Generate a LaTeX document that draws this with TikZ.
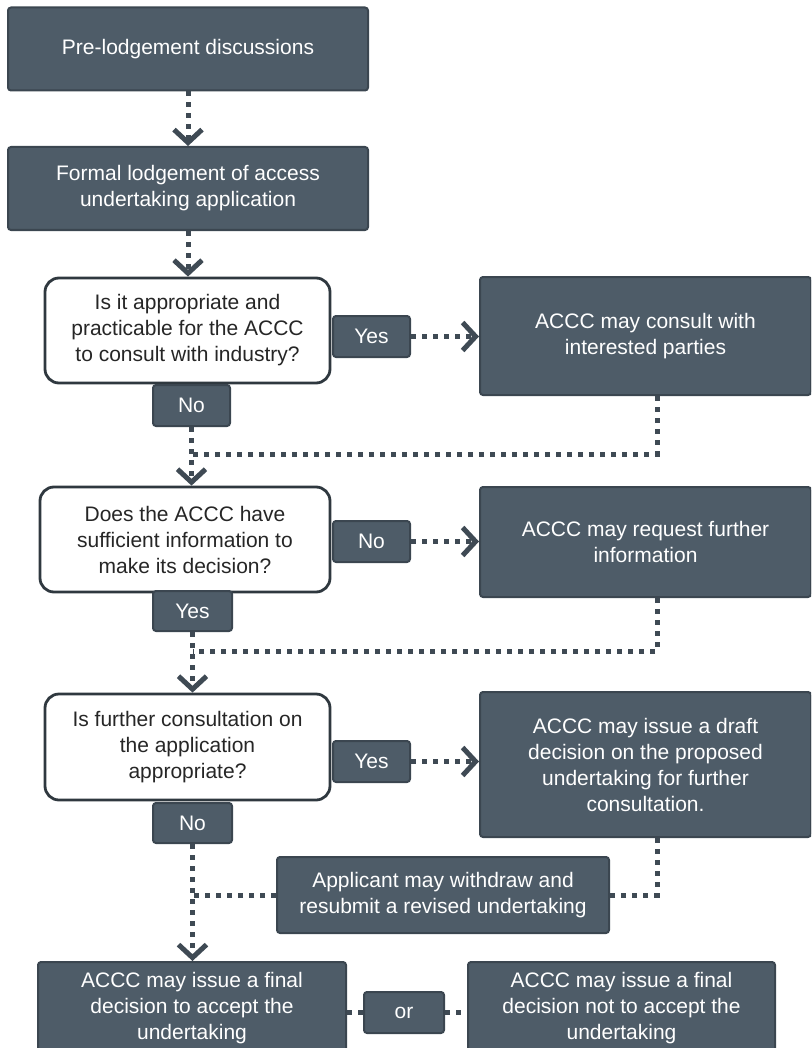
\documentclass[tikz,border=0pt]{standalone}
\usepackage{fontspec}
\setmainfont{Liberation Sans}
\usetikzlibrary{arrows.meta, positioning}
\definecolor{slate}{HTML}{4E5C68}
\definecolor{slateline}{HTML}{3B4650}
\definecolor{flowline}{HTML}{3F4A54}
\definecolor{qline}{HTML}{2F383F}

\begin{document}
\begin{tikzpicture}[
    x=0.5pt, y=-0.5pt,
    every node/.style={font=\fontsize{10.5}{13}\selectfont, align=center, inner sep=0pt},
    stepbox/.style={rectangle, rounded corners=1.5pt, draw=slateline, line width=1pt, fill=slate, text=white},
    question/.style={rectangle, rounded corners=7pt, draw=qline, line width=1.4pt, fill=white, text=black!85,
      minimum height=52.5pt},
    tag/.style={stepbox, minimum width=38.5pt, minimum height=20.5pt},
    side/.style={stepbox, minimum width=165.5pt},
    flow/.style={draw=flowline, line width=2.5pt, dash pattern=on 2.5pt off 3pt},
    go/.style={flow, -{Straight Barb[length=6.5pt, width=14pt, line width=2.5pt]}},
  ]
  \useasboundingbox (0,0) rectangle (811,1048);
  \clip (0,0) rectangle (811,1048);

  % main column
  \node[stepbox, minimum width=180pt, minimum height=41.5pt] (pre) at (188,49) {Pre-lodgement discussions};
  \node[stepbox, minimum width=180pt, minimum height=41.5pt] (formal) at (188,188.5)
    {Formal lodgement of access\\undertaking application};
  \node[question, minimum width=142.5pt] (q1) at (187.5,330.5)
    {Is it appropriate and\\practicable for the ACCC\\to consult with industry?};
  \node[question, minimum width=145pt] (q2) at (185,539.5)
    {Does the ACCC have\\sufficient information to\\make its decision?};
  \node[question, minimum width=142.5pt, minimum height=53pt] (q3) at (187.5,747)
    {Is further consultation on\\the application\\appropriate?};

  % answer tags
  \node[tag] (yes1) at (371.5,336.5) {Yes};
  \node[tag] (no1)  at (191.5,405.5) {No};
  \node[tag] (no2)  at (371.5,541.5) {No};
  \node[tag, minimum width=39.5pt, minimum height=20pt] (yes2) at (192.5,611) {Yes};
  \node[tag] (yes3) at (371.5,761.5) {Yes};
  \node[tag, minimum width=39.5pt, minimum height=20pt] (no3)  at (192.5,823) {No};

  % side boxes
  \node[side, minimum height=59pt] (consult) at (645.5,336) {ACCC may consult with\\interested parties};
  \node[side, minimum height=55pt] (request) at (645.5,542) {ACCC may request further\\information};
  \node[side, minimum height=72.5pt] (draft) at (645.5,764.5)
    {ACCC may issue a draft\\decision on the proposed\\undertaking for further\\consultation.};
  \node[stepbox, minimum width=166pt, minimum height=38pt] (withdraw) at (443,895)
    {Applicant may withdraw and\\resubmit a revised undertaking};

  % final decisions
  \node[stepbox, minimum width=154pt, minimum height=46pt] (accept) at (192,1008)
    {ACCC may issue a final\\decision to accept the\\undertaking};
  \node[tag, minimum width=40pt] (orbox) at (404,1012.5) {or};
  \node[stepbox, minimum width=153.5pt, minimum height=46pt] (reject) at (621.5,1008)
    {ACCC may issue a final\\decision not to accept the\\undertaking};

  \coordinate (j1) at (191.5,454);
  \coordinate (j2) at (192.5,651);

  \draw[go] (pre) -- (formal);
  \draw[go] (formal.south) -- (formal.south |- q1.north);
  \draw[go] (yes1) -- (yes1 -| consult.west);
  \draw[go] (no1.south) -- (no1.south |- q2.north);
  \draw[flow] ([xshift=5.75pt]consult.south) |- (j1);
  \draw[go] (no2) -- (no2 -| request.west);
  \draw[go] (yes2.south) -- (yes2.south |- q3.north);
  \draw[flow] ([xshift=5.75pt]request.south) |- (j2);
  \draw[go] (yes3) -- (yes3 -| draft.west);
  \draw[flow] ([xshift=5.75pt]draft.south) |- (withdraw.east);
  \draw[flow] (withdraw.west) -- (withdraw.west -| no3.south);
  \draw[go] (no3.south) -- (no3.south |- accept.north);
  \draw[flow] (orbox.west -| accept.east) -- (orbox.west);
  \draw[flow] (orbox.east) -- (orbox.east -| reject.west);
\end{tikzpicture}
\end{document}
